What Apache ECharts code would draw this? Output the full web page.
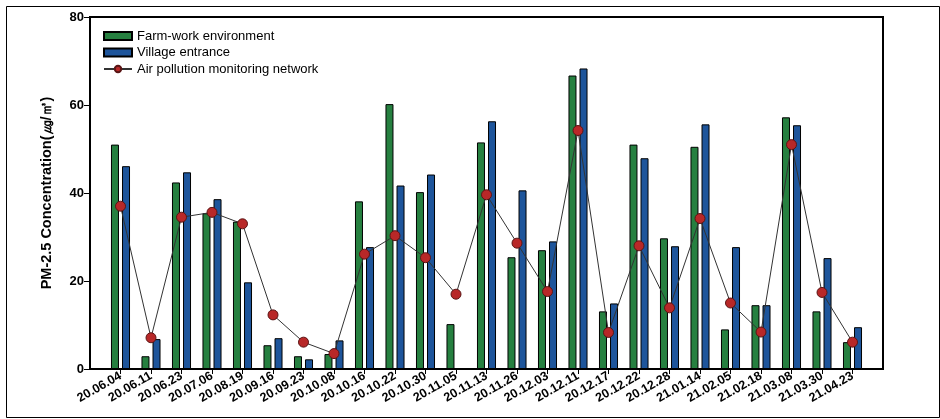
<!DOCTYPE html>
<html>
<head>
<meta charset="utf-8">
<script src="https://cdn.jsdelivr.net/npm/echarts@6/dist/echarts.min.js"></script>
<style>
html,body{margin:0;padding:0;background:#fff;}
#c{width:940px;height:419px;}
</style>
</head>
<body>
<div id="c"></div>
<script>
const categories = ['20.06.04','20.06.11','20.06.23','20.07.06','20.08.19','20.09.16','20.09.23','20.10.08','20.10.16','20.10.22','20.10.30','20.11.05','20.11.13','20.11.26','20.12.03','20.12.11','20.12.17','20.12.22','20.12.28','21.01.14','21.02.05','21.02.18','21.03.08','21.03.30','21.04.23'];
const farmWork = [51.0,2.9,42.4,35.4,33.5,5.4,2.9,3.4,38.1,60.2,40.2,10.2,51.5,25.4,27.0,66.7,13.1,51.0,29.7,50.5,9.0,14.5,57.2,13.1,6.1];
const village = [46.1,6.8,44.7,38.6,19.7,7.0,2.2,6.5,27.7,41.7,44.2,0,56.3,40.6,29.0,68.3,14.9,47.9,27.9,55.6,27.7,14.5,55.4,25.2,9.5];
const monitoring = [37.0,7.1,34.5,35.6,33.0,12.3,6.1,3.5,26.1,30.3,25.3,17.0,39.6,28.6,17.6,54.2,8.3,28.0,13.9,34.2,15.0,8.4,51.0,17.4,6.1];
const yTicks = [0,20,40,60,80];

const pad = a => [null].concat(a, [null]);
const padCats = [''].concat(categories, ['']);
const n = padCats.length;

const chart = echarts.init(document.getElementById('c'));
const font = 'Arial, "Liberation Sans", sans-serif';
chart.setOption({
  animation: false,
  backgroundColor: '#fff',
  graphic: [{
    type: 'rect', left: 4, top: 4, z: -1,
    shape: {width: 933, height: 411},
    style: {fill: 'none', stroke: '#000', lineWidth: 1}
  }],
  grid: {left: 90, right: 57, top: 17, bottom: 50, show: true, borderColor: '#000', borderWidth: 2, backgroundColor: 'transparent'},
  legend: {
    orient: 'vertical', left: 103, top: 29.5, padding: 0, itemWidth: 28, itemHeight: 8, itemGap: 3.5,
    textStyle: {fontFamily: font, fontSize: 13, color: '#000', lineHeight: 13},
    data: [
      {name: 'Farm-work environment', icon: 'rect'},
      {name: 'Village entrance', icon: 'rect'},
      {name: 'Air pollution monitoring network'}
    ]
  },
  xAxis: {
    type: 'category', data: padCats, boundaryGap: false,
    axisLine: {lineStyle: {color: '#000', width: 2}},
    axisTick: {length: 5, lineStyle: {color: '#000', width: 1}, interval: (i) => i > 0 && i < n - 1},
    axisLabel: {interval: 0, rotate: 30, fontFamily: font, fontSize: 12.5, fontWeight: 'bold', color: '#000', margin: 6},
    splitLine: {show: false}
  },
  yAxis: {
    type: 'value', min: 0, max: 80, interval: 20,
    name: 'PM-2.5 Concentration(㎍/㎥)', nameLocation: 'middle', nameGap: 36,
    nameTextStyle: {fontFamily: font, fontSize: 14.5, fontWeight: 'bold', color: '#000'},
    axisLine: {show: true, lineStyle: {color: '#000', width: 2}},
    axisTick: {show: true, length: 6, lineStyle: {color: '#000', width: 1}},
    axisLabel: {fontFamily: font, fontSize: 13, fontWeight: 'bold', color: '#000', margin: 6,
      formatter: v => yTicks.includes(v) ? String(v) : ''},
    splitLine: {show: false}
  },
  series: [
    {name: 'Farm-work environment', type: 'bar', data: pad(farmWork), barWidth: 8, barGap: '38%',
      itemStyle: {color: '#268040', borderColor: '#000', borderWidth: 1}},
    {name: 'Village entrance', type: 'bar', data: pad(village), barWidth: 8,
      itemStyle: {color: '#1e559b', borderColor: '#000', borderWidth: 1}},
    {name: 'Air pollution monitoring network', type: 'line', data: pad(monitoring), z: 5,
      symbol: 'circle', symbolSize: 10,
      lineStyle: {color: '#333', width: 1},
      itemStyle: {color: '#b82828', borderColor: '#5a1515', borderWidth: 1}}
  ]
});
</script>
</body>
</html>
